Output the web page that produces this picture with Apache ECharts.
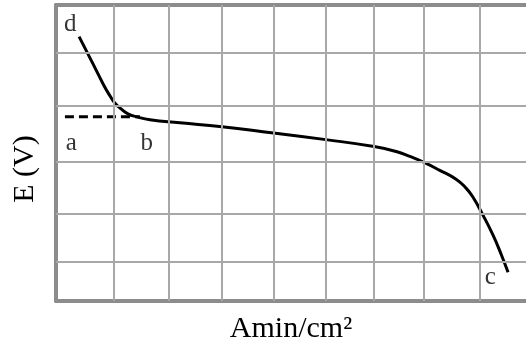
<!DOCTYPE html>
<html>
<head>
<meta charset="utf-8">
<script src="https://cdn.jsdelivr.net/npm/echarts@6/dist/echarts.min.js"></script>
<style>
html,body{margin:0;padding:0;background:#fff;}
#chart{width:526px;height:349px;}
</style>
</head>
<body>
<div id="chart"></div>
<script>
// Data (x in grid-cell units, y in grid-cell units)
const curveX = [0.44, 0.70, 0.91, 1.03, 1.12, 1.24, 1.37, 1.54, 1.79, 2.36, 3.16, 3.94, 5.14, 6.06, 6.48, 6.74, 7.01, 7.31, 7.62, 7.81, 7.94, 8.13, 8.32, 8.48, 8.61];
const curveY = [5.34, 4.80, 4.36, 4.14, 4.00, 3.88, 3.78, 3.72, 3.66, 3.60, 3.52, 3.42, 3.26, 3.12, 3.02, 2.92, 2.80, 2.64, 2.46, 2.28, 2.10, 1.74, 1.34, 0.94, 0.58];
const dashX = [0.17, 1.60];
const dashY = [3.72, 3.72];
const pointNames = ['d', 'a', 'b', 'c'];
const pointX = [0.27, 0.29, 1.73, 8.27];
const pointY = [5.58, 3.18, 3.18, 0.47];
const gridX = [1.10, 2.15, 3.16, 4.15, 5.14, 6.06, 7.01, 8.08];
const gridY = [0.80, 1.76, 2.82, 3.94, 5.02];
const xName = 'Amin/cm²';
const yName = 'E (V)';

const chart = echarts.init(document.getElementById('chart'));
const serif = '"Liberation Serif", "DejaVu Serif", serif';
const gridColor = '#a8a8a8';
const borderColor = '#8c8c8c';
const hidden = { show: false };

chart.setOption({
  animation: false,
  textStyle: { fontFamily: serif, color: '#000' },
  grid: { left: 56, top: 5, right: 0, bottom: 45, show: false },
  xAxis: [
    {
      type: 'value', min: 0, max: 8.952, position: 'bottom',
      axisLine: { show: true, onZero: false, lineStyle: { color: borderColor, width: 4 } },
      axisTick: hidden, axisLabel: hidden, splitLine: hidden,
      name: xName, nameLocation: 'middle', nameGap: 13,
      nameTextStyle: { fontFamily: serif, fontSize: 30, color: '#000', verticalAlign: 'top' }
    },
    {
      type: 'value', min: 0, max: 8.952, position: 'top',
      axisLine: { show: true, onZero: false, lineStyle: { color: borderColor, width: 4 } },
      axisTick: hidden, axisLabel: hidden, splitLine: hidden
    }
  ],
  yAxis: {
    type: 'value', min: 0, max: 5.98,
    axisLine: { show: true, onZero: false, lineStyle: { color: borderColor, width: 4 } },
    axisTick: hidden, axisLabel: hidden, splitLine: hidden,
    name: yName, nameLocation: 'middle', nameGap: 16, nameRotate: 90,
    nameTextStyle: { fontFamily: serif, fontSize: 30, color: '#000', padding: [0, 32, 0, 0] }
  },
  series: [
    {
      type: 'line', data: [], silent: true, z: 1,
      markLine: {
        silent: true, symbol: ['none', 'none'], label: { show: false },
        lineStyle: { color: gridColor, width: 2, type: 'solid' },
        emphasis: { disabled: true },
        data: gridX.map(v => ({ xAxis: v })).concat(gridY.map(v => ({ yAxis: v })))
      }
    },
    {
      type: 'line', smooth: 0.5, symbol: 'none', silent: true, z: 3,
      lineStyle: { color: '#000', width: 3 },
      data: curveX.map((x, i) => [x, curveY[i]])
    },
    {
      type: 'line', symbol: 'none', silent: true, z: 3,
      lineStyle: { color: '#000', width: 3, type: [9, 5] },
      data: dashX.map((x, i) => [x, dashY[i]])
    },
    {
      type: 'scatter', symbolSize: 1, silent: true, z: 4,
      itemStyle: { color: 'rgba(0,0,0,0)' },
      label: {
        show: true, position: 'inside', formatter: p => p.data.name,
        fontFamily: serif, fontSize: 25, color: '#000'
      },
      data: pointNames.map((n, i) => ({ name: n, value: [pointX[i], pointY[i]] }))
    }
  ]
});
</script>
</body>
</html>
